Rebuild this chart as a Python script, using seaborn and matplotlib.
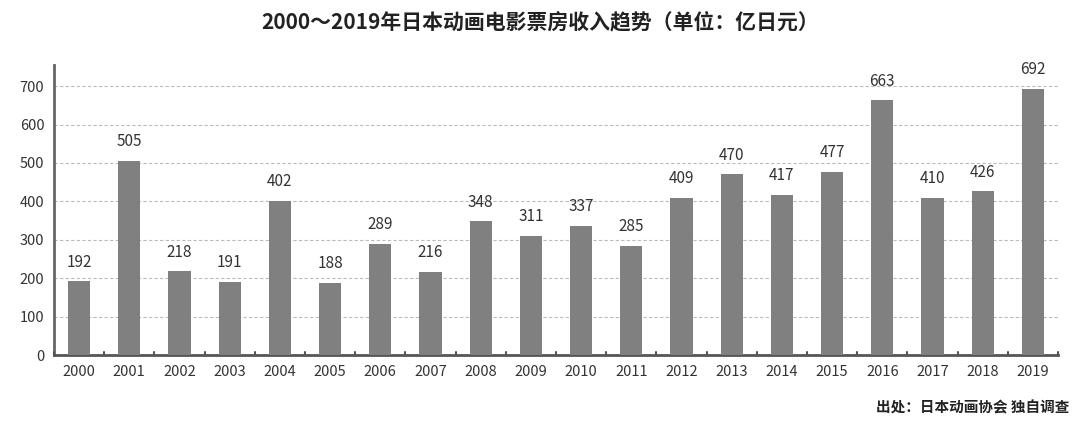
import matplotlib
matplotlib.use("Agg")
import matplotlib.pyplot as plt
import seaborn as sns
import pandas as pd
import numpy as np

years = [str(y) for y in range(2000, 2020)]
values = [192, 505, 218, 191, 402, 188, 289, 216, 348, 311, 337, 285, 409, 470, 417, 477, 663, 410, 426, 692]
yticks = [0, 100, 200, 300, 400, 500, 600, 700]
title = "2000～2019年日本动画电影票房收入趋势（单位：亿日元）"
source = "出处：日本动画协会 独自调查"

sns.set_theme(style="white")
plt.rcParams['font.family'] = ['Noto Sans CJK SC', 'DejaVu Sans']

df = pd.DataFrame({"year": years, "value": values})

fig = plt.figure(figsize=(10.8, 4.24), dpi=100)
ax = fig.add_axes([0.05, 0.1627, 0.9296, 0.684])

sns.barplot(data=df, x="year", y="value", color="#808080", width=0.44,
            saturation=1, ax=ax, zorder=3, edgecolor="none", linewidth=0)

ax.set_ylim(0, 755)
ax.set_xlim(-0.5, len(years) - 0.5)
ax.set_yticks(yticks)
ax.set_yticklabels([str(t) for t in yticks], fontsize=10.5, color="#333333")
ax.set_xticks(range(len(years)))
ax.set_xticklabels(years, fontsize=10.5, color="#333333")
ax.tick_params(axis="x", length=0, pad=7)
ax.tick_params(axis="y", length=0, pad=7)
ax.set_xlabel("")
ax.set_ylabel("")

# boundary tick marks on bottom axis
for b in np.arange(-0.5, len(years), 1.0):
    ax.plot([b, b], [0, 9], color="#555555", lw=1.5, zorder=4, clip_on=False)

ax.yaxis.grid(True, linestyle=(0, (3, 2)), color="#bbbbbb", lw=0.8, zorder=0)
ax.xaxis.grid(False)

for s in ["top", "right"]:
    ax.spines[s].set_visible(False)
ax.spines["left"].set_color("#666666")
ax.spines["left"].set_linewidth(2)
ax.spines["bottom"].set_color("#555555")
ax.spines["bottom"].set_linewidth(2)

for i, v in enumerate(values):
    ax.text(i, v + 28, str(v), ha="center", va="bottom", fontsize=11, color="#333333")

fig.text(0.5, 0.948, title, ha="center", va="center", fontsize=15,
         fontweight="bold", color="#222222")
fig.text(0.99, 0.04, source, ha="right", va="center", fontsize=10.5,
         fontweight="bold", color="#222222")

fig.savefig("out.png", dpi=100)
